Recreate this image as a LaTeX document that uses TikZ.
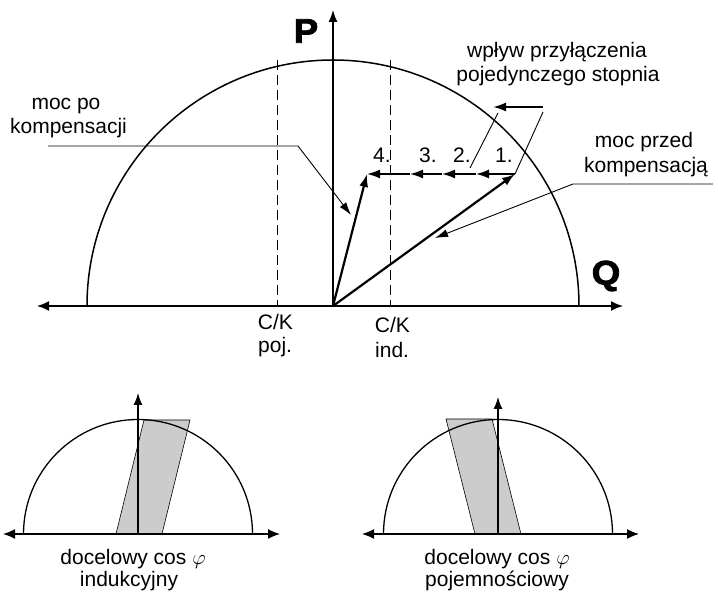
\documentclass[tikz,border=0pt]{standalone}
\usepackage{fontspec}
\setmainfont{Liberation Sans}
\newfontfamily\heavyfont{Liberation Sans Bold}[FakeBold=2.5,FakeStretch=1.08]
\usetikzlibrary{arrows.meta}
\definecolor{shade}{RGB}{204,204,204}
\begin{document}
\begin{tikzpicture}[x=1pt,y=1pt,
  lbl/.style={font=\fontsize{21}{25}\selectfont, inner sep=0pt, anchor=base},
  big/.style={font=\fontsize{34}{34}\selectfont\heavyfont, inner sep=0pt},
  axis/.style={line width=1.6pt, {Latex[length=12pt,width=10pt]}-{Latex[length=12pt,width=10pt]}},
  vaxis/.style={line width=1.3pt, -{Latex[length=12pt,width=9pt]}},
  vec/.style={line width=2.2pt, -{Latex[length=13pt,width=9pt]}},
  circ/.style={line width=1.5pt},
  dashline/.style={line width=0.9pt, dash pattern=on 10pt off 5pt},
  note/.style={line width=0.9pt},
  notearrow/.style={line width=0.9pt, -{Latex[length=13pt,width=8pt]}},
  zone/.style={fill=shade, draw=black, line width=0.6pt}
]
\useasboundingbox (0,0) rectangle (718,594);

% ---------- main diagram ----------
\coordinate (O) at (333,288);
\coordinate (L) at (37,288);
\coordinate (R) at (623,288);
\coordinate (T) at (333,584);
\draw[circ] (87,288) arc[start angle=180,end angle=0,radius=246];
\draw[dashline] (277,534) -- (277,288);
\draw[dashline] (390,534) -- (390,288);
\draw[axis] (L) -- (R);
\draw[vaxis] (O) -- (T);
\node[big] (P) at (306,563) {P};
\node[big] (Q) at (606,318) {Q};

\coordinate (A) at (515,420);
\coordinate (c1) at (476,420);
\coordinate (c2) at (442,420);
\coordinate (c3) at (410,420);
\coordinate (B) at (367,420);
\draw[vec] (O) -- (A);
\draw[vec] (O) -- (B);
\draw[vec,line width=1.6pt] (A) -- (c1);
\draw[vec,line width=1.6pt] (c1) -- (c2);
\draw[vec,line width=1.6pt] (c2) -- (c3);
\draw[vec,line width=1.6pt] (c3) -- (B);

\node[lbl,anchor=base west] (n4) at (373,431) {4.};
\node[lbl,anchor=base west] (n3) at (419,431) {3.};
\node[lbl,anchor=base west] (n2) at (453,431) {2.};
\node[lbl,anchor=base west] (n1) at (495,431) {1.};

\node[lbl] (ck1) at (275.5,264) {C/K};
\node[lbl,anchor=base west] (poj) at (258,241) {poj.};
\node[lbl] (ck2) at (392.5,261) {C/K};
\node[lbl,anchor=base west] (ind) at (375,236) {ind.};

% annotations
\node[lbl] (w1) at (557,536) {wpływ przyłączenia};
\node[lbl] (w2) at (558,512) {pojedynczego stopnia};
\coordinate (s1) at (543,487);
\coordinate (s2) at (493,487);
\draw[vec,line width=2pt] (s1) -- (s2);
\coordinate (t1) at (498,481);
\coordinate (t2) at (470,426);
\coordinate (t3) at (543,482);
\draw[note] (t1) -- (t2);
\draw[note] (t3) -- (A);

\node[lbl] (mp1) at (644,446) {moc przed};
\node[lbl] (mp2) at (646,421) {kompensacją};
\coordinate (m1) at (713,410);
\coordinate (m2) at (573,410);
\coordinate (m3) at (435,356);
\draw[notearrow] (m1) -- (m2) -- (m3);

\node[lbl] (pp1) at (66,484) {moc po};
\node[lbl] (pp2) at (68.5,460) {kompensacji};
\coordinate (k1) at (48,448);
\coordinate (k2) at (298,448);
\coordinate (k3) at (351,379);
\draw[notearrow] (k1) -- (k2) -- (k3);

% ---------- bottom left ----------
\coordinate (bl0) at (138,60);
\draw[zone] (116,60) -- (162,60) -- (190,174) -- (144,174) -- cycle;
\draw[circ,line width=1.3pt] (23.5,60) arc[start angle=180,end angle=0,radius=114.5];
\coordinate (blL) at (3,60);
\coordinate (blR) at (280,60);
\coordinate (blT) at (138,201);
\draw[axis,line width=1.3pt] (blL) -- (blR);
\draw[vaxis] (bl0) -- (blT);
\node[lbl] (bt1) at (133,29) {docelowy cos $\varphi$};
\node[lbl] (bt2) at (129,7) {indukcyjny};

% ---------- bottom right ----------
\coordinate (br0) at (498,60);
\draw[zone] (475,60) -- (521,60) -- (492,175) -- (446,175) -- cycle;
\draw[circ,line width=1.3pt] (383.5,60) arc[start angle=180,end angle=0,radius=114.5];
\coordinate (brL) at (362,60);
\coordinate (brR) at (639,60);
\coordinate (brT) at (498,197);
\draw[axis,line width=1.3pt] (brL) -- (brR);
\draw[vaxis] (br0) -- (brT);
\node[lbl] (bt3) at (497,29) {docelowy cos $\varphi$};
\node[lbl] (bt4) at (497,7) {pojemnościowy};
\end{tikzpicture}
\end{document}
